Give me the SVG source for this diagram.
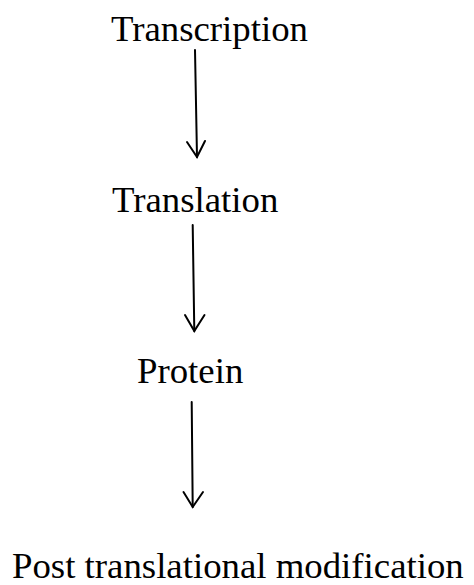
<svg xmlns="http://www.w3.org/2000/svg" width="474" height="585" viewBox="0 0 474 585">
  <style>
    .label { font-family: "Liberation Serif", "Times New Roman", serif; font-size: 36.8px; fill: #000; }
    .link { stroke: #000; stroke-width: 2; fill: none; stroke-linecap: round; }
    .head { stroke: #000; stroke-width: 2; fill: none; stroke-linejoin: miter; stroke-linecap: round; }
  </style>
  <rect width="474" height="585" fill="#fff"/>

  <g id="transcription">
    <text class="label" x="111" y="41">Transcription</text>
  </g>
  <g id="translation">
    <text class="label" x="112" y="212">Translation</text>
  </g>
  <g id="protein">
    <text class="label" x="137" y="383">Protein</text>
  </g>
  <g id="post-translational-modification">
    <text class="label" x="12" y="578">Post translational modification</text>
  </g>

  <g id="connectors">
    <path class="link" d="M195 50 L197 157"/>
    <path class="head" d="M187 142 L197 157 L205 141"/>

    <path class="link" d="M192.7 225 L194.3 331"/>
    <path class="head" d="M185 315 L194.3 331 L204.5 315"/>

    <path class="link" d="M191.7 402 L192.7 507"/>
    <path class="head" d="M183.5 492 L192.7 507 L203 492"/>
  </g>
</svg>
